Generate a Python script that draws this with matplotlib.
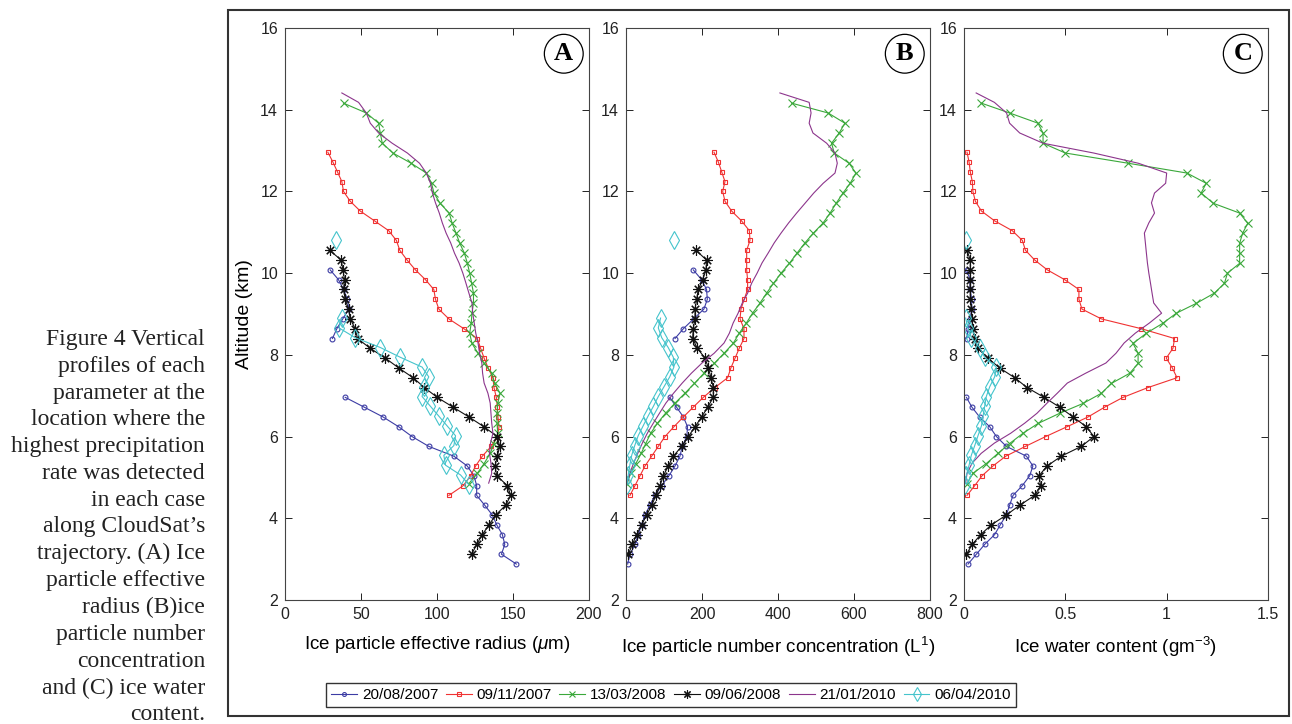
import numpy as np
import matplotlib
matplotlib.use("Agg")
import matplotlib.pyplot as plt
from matplotlib.patches import Rectangle

nan = np.nan

dates = ["20/08/2007", "09/11/2007", "13/03/2008", "09/06/2008", "21/01/2010", "06/04/2010"]

# 20/08/2007 (gap between 8.4 and 7.0 km)
alt_0820 = [10.08, 9.84, 9.60, 9.36, 9.12, 8.88, 8.64, 8.40, 8.16, 7.92, 7.68, 7.44, 7.20,
            6.96, 6.72, 6.48, 6.24, 6.00, 5.76, 5.52, 5.28, 5.04, 4.80, 4.56, 4.32, 4.08,
            3.84, 3.60, 3.36, 3.12, 2.88]
re_0820 = [29.7, 35.2, 38.5, 41.0, 42.0, 38.0, 34.1, 31.2, nan, nan, nan, nan, nan,
           39.6, 52.1, 64.5, 74.8, 83.6, 94.6, 111.1, 119.9, 124.3, 126.1, 126.1, 131.4, 136.4,
           139.3, 143.0, 144.6, 142.4, 152.2]
nc_0820 = [177, 199, 212, 214, 205, 178, 151, 129, nan, nan, nan, nan, nan,
           115, 133, 151, 162, 160, 148, 142, 129, 113, 94, 76, 63, 50,
           41, 32, 24, 10.5, 4.4]
iwc_0820 = [0.013, 0.03, 0.03, 0.038, 0.038, 0.03, 0.021, 0.013, nan, nan, nan, nan, nan,
            0.012, 0.039, 0.077, 0.127, 0.16, 0.209, 0.308, 0.34, 0.324, 0.288, 0.242, 0.225, 0.209,
            0.179, 0.151, 0.102, 0.061, 0.02]

# 09/11/2007
alt_1109 = [12.96, 12.72, 12.48, 12.24, 12.00, 11.76, 11.52, 11.28, 11.04, 10.80, 10.56, 10.32,
            10.08, 9.84, 9.60, 9.36, 9.12, 8.88, 8.64, 8.40, 8.16, 7.92, 7.68, 7.44,
            7.20, 6.96, 6.72, 6.48, 6.24, 6.00, 5.76, 5.52, 5.28, 5.04, 4.80, 4.56]
re_1109 = [28.2, 31.5, 34.5, 37.4, 38.5, 42.9, 49.5, 58.9, 68.2, 73.3, 75.5, 80.3,
           85.8, 92.4, 97.9, 99.0, 101.2, 107.8, 117.7, 126.5, 128.7, 131.0, 133.6, 136.8,
           137.5, 139.0, 139.7, 140.1, 140.8, 139.7, 135.7, 129.8, 125.4, 122.1, 117.3, 107.8]
nc_1109 = [231.6, 243, 251.8, 260.5, 254.4, 260.5, 278, 304, 324.6, 326.3, 317.5, 317.5,
           317.5, 320, 320, 311, 302.6, 300, 310.5, 310.5, 298, 287, 276, 267.5,
           234, 203.5, 177, 151, 126, 102.6, 85, 67.5, 50, 36.8, 23.7, 10.5]
iwc_1109 = [0.015, 0.025, 0.031, 0.041, 0.044, 0.056, 0.086, 0.151, 0.238, 0.288, 0.303, 0.349,
            0.411, 0.497, 0.567, 0.567, 0.582, 0.678, 0.875, 1.039, 1.031, 0.998, 1.028, 1.051,
            0.908, 0.785, 0.694, 0.612, 0.508, 0.403, 0.303, 0.206, 0.143, 0.089, 0.053, 0.015]

# 13/03/2008
alt_0313 = [14.16, 13.92, 13.67, 13.43, 13.18, 12.94, 12.69, 12.45, 12.20, 11.96, 11.71, 11.47, 11.22,
            10.98, 10.73, 10.49, 10.24, 10.00, 9.75, 9.51, 9.26, 9.02, 8.77, 8.53, 8.28, 8.04,
            7.79, 7.55, 7.30, 7.06, 6.81, 6.57, 6.32, 6.08, 5.83, 5.59, 5.34, 5.10, 4.85]
re_0313 = [38.5, 53.5, 61.6, 62.7, 64.0, 71.0, 83.0, 93.0, 96.4, 98.0, 102.0, 108.0, 110.0,
           112.5, 115.0, 118.0, 120.0, 121.5, 122.8, 124.0, 124.0, 123.0, 122.5, 121.5, 123.0, 127.0,
           131.0, 136.0, 138.0, 141.5, 140.0, 139.5, 139.5, 140.0, 137.5, 135.0, 131.0, 126.5, 121.0]
nc_0313 = [436, 532, 576, 561, 541, 548, 587, 605, 590, 571, 553, 537, 518,
           493, 470, 450, 430, 408, 388, 370, 352, 333, 316, 298, 282, 258,
           232, 205, 180, 155, 128, 104, 82, 65, 52, 40, 26, 12, 3]
iwc_0313 = [0.086, 0.225, 0.365, 0.39, 0.39, 0.50, 0.81, 1.10, 1.195, 1.17, 1.23, 1.36, 1.40,
            1.375, 1.36, 1.36, 1.36, 1.30, 1.285, 1.235, 1.146, 1.048, 0.98, 0.90, 0.834, 0.859,
            0.859, 0.818, 0.727, 0.678, 0.587, 0.472, 0.365, 0.291, 0.225, 0.168, 0.11, 0.044, 0.015]

# 09/06/2008
alt_0609 = [10.56, 10.32, 10.08, 9.84, 9.60, 9.36, 9.12, 8.88, 8.64, 8.40, 8.16, 7.92, 7.68, 7.44,
            7.20, 6.96, 6.72, 6.48, 6.24, 6.00, 5.76, 5.52, 5.28, 5.04, 4.80, 4.56, 4.32, 4.08,
            3.84, 3.60, 3.36, 3.12]
re_0609 = [29.3, 37.0, 38.1, 39.2, 38.5, 39.6, 41.8, 42.9, 46.2, 47.7, 56.1, 66.0, 74.8, 84.3,
           91.7, 100.1, 110.6, 121.0, 130.9, 139.7, 141.2, 139.7, 138.2, 139.3, 146.3, 148.5, 145.2, 138.6,
           134.2, 129.8, 126.1, 122.8]
nc_0609 = [184, 212, 210.5, 202, 190, 186, 181.6, 181.6, 177, 175.4, 187.7, 208, 216.7, 223.7,
           229.8, 229.8, 215, 199, 181.6, 164, 146.5, 124.6, 111.4, 98.2, 89.5, 79, 67.5, 54.4,
           41.2, 28, 16.7, 6]
iwc_0609 = [0.015, 0.031, 0.031, 0.031, 0.031, 0.031, 0.036, 0.039, 0.044, 0.053, 0.069, 0.118, 0.176, 0.25,
            0.311, 0.395, 0.472, 0.538, 0.604, 0.641, 0.579, 0.48, 0.41, 0.37, 0.378, 0.349, 0.275, 0.209,
            0.135, 0.082, 0.041, 0.012]

# 21/01/2010
alt_0121 = [14.41, 14.18, 13.92, 13.67, 13.43, 13.18, 12.94, 12.69, 12.45, 12.20,
            11.96, 11.72, 11.47, 11.23, 10.98, 10.74, 10.49, 10.25, 10.00, 9.76,
            9.51, 9.27, 9.02, 8.78, 8.53, 8.29, 8.04, 7.80, 7.55, 7.31,
            7.06, 6.82, 6.57, 6.33, 6.08, 5.84, 5.59, 5.35, 5.10, 4.86]
re_0121 = [37.4, 48.4, 53.5, 56.1, 61.6, 70.5, 80.5, 88.5, 93.0, 95.7,
           97.0, 99.0, 101.5, 103.5, 106.0, 109.0, 111.5, 114.5, 117.0, 119.0,
           121.0, 123.0, 123.5, 124.5, 125.5, 127.0, 128.0, 129.5, 130.0, 131.0,
           133.5, 135.0, 135.5, 136.0, 136.8, 135.2, 134.5, 135.5, 136.0, 134.0]
nc_0121 = [405, 482, 487, 482, 492, 528, 550, 556, 550, 519,
           494, 472, 449, 428, 408, 390, 374, 358, 345, 331,
           320, 306, 295, 282, 272, 258, 232, 200, 172, 148,
           125, 105, 88, 72, 56, 43, 31, 20, 10, 3]
iwc_0121 = [0.06, 0.15, 0.21, 0.225, 0.275, 0.39, 0.64, 0.86, 1.0, 0.995,
            0.94, 0.925, 0.94, 0.912, 0.89, 0.895, 0.9, 0.905, 0.912, 0.92,
            0.928, 0.936, 0.975, 0.915, 0.845, 0.79, 0.75, 0.70, 0.60, 0.51,
            0.46, 0.41, 0.36, 0.30, 0.23, 0.15, 0.085, 0.04, 0.015, 0.008]

# 06/04/2010 (single bin at 10.8 km, separated from the rest)
alt_0406 = [10.82, 9.86, 8.90, 8.66, 8.42, 8.18, 7.94, 7.70, 7.46, 7.22,
            6.98, 6.74, 6.50, 6.26, 6.02, 5.78, 5.54, 5.30, 5.06, 4.82]
re_0406 = [33.4, nan, 37.4, 35.5, 46.2, 62.7, 75.9, 90.2, 94.6, 91.3,
           90.2, 95.7, 101.2, 106.7, 112.2, 111.1, 104.5, 105.6, 115.5, 121.0]
nc_0406 = [126, nan, 91, 85, 94, 111, 124.6, 126, 115, 100,
           85, 72, 58, 45, 32, 23, 15, 10, 6, 2]
iwc_0406 = [0.01, nan, 0.008, 0.02, 0.036, 0.077, 0.102, 0.16, 0.151, 0.127,
            0.11, 0.102, 0.094, 0.086, 0.069, 0.053, 0.036, 0.025, 0.012, 0.003]

caption = ["Figure 4 Vertical", "profiles of each", "parameter at the", "location where the",
           "highest precipitation", "rate was detected", "in each case", "along CloudSat\u2019s",
           "trajectory. (A) Ice", "particle effective", "radius (B)ice", "particle number",
           "concentration", "and (C) ice water", "content."]

plt.rcParams["font.family"] = ["Liberation Sans", "DejaVu Sans"]
plt.rcParams["mathtext.fontset"] = "custom"
plt.rcParams["mathtext.rm"] = "Liberation Sans"
plt.rcParams["mathtext.it"] = "Liberation Sans:italic"

altitudes = [alt_0820, alt_1109, alt_0313, alt_0609, alt_0121, alt_0406]
panel_data = [
    [re_0820, re_1109, re_0313, re_0609, re_0121, re_0406],
    [nc_0820, nc_1109, nc_0313, nc_0609, nc_0121, nc_0406],
    [iwc_0820, iwc_1109, iwc_0313, iwc_0609, iwc_0121, iwc_0406],
]

colors = ["#3c3ca4", "#f03232", "#3aa83a", "#111111", "#8c358c", "#45c4cc"]
# (8, 2, 0) is an eight-spoke asterisk
markers = ["o", "s", "x", (8, 2, 0), None, "d"]
msizes = [3.5, 3.0, 6.0, 7.5, 0, 9.0]

fig = plt.figure(figsize=(12.92, 7.24), dpi=100)

ax_left = [285 / 1292, 626 / 1292, 964 / 1292]
ax_w = 304 / 1292
ax_b = 1 - 600 / 724
ax_h = 572 / 724

xlims = [(0, 200), (0, 800), (0, 1.5)]
xticks = [[0, 50, 100, 150, 200], [0, 200, 400, 600, 800], [0, 0.5, 1, 1.5]]
xticklabels = [["0", "50", "100", "150", "200"], ["0", "200", "400", "600", "800"],
               ["0", "0.5", "1", "1.5"]]
xlabels = ["Ice particle effective radius ($\\mu$m)",
           "Ice particle number concentration (L$^{1}$)",
           "Ice water content (gm$^{-3}$)"]
letters = ["A", "B", "C"]

handles = []
for i in range(3):
    ax = fig.add_axes([ax_left[i], ax_b, ax_w, ax_h])
    for k in range(6):
        mk = markers[k]
        ln, = ax.plot(panel_data[i][k], altitudes[k], color=colors[k], lw=0.8,
                      marker=mk if mk else "None", ms=msizes[k],
                      mfc="none", mec=colors[k], mew=0.8)
        if i == 0:
            handles.append(ln)
    ax.set_xlim(*xlims[i])
    ax.set_ylim(2, 16)
    ax.set_xticks(xticks[i])
    ax.set_xticklabels(xticklabels[i])
    ax.set_yticks([2, 4, 6, 8, 10, 12, 14, 16])
    ax.tick_params(direction="in", top=True, right=True, length=5, width=0.7,
                   labelsize=11.5, colors="#222222", pad=5)
    for sp in ax.spines.values():
        sp.set_color("#444444")
        sp.set_linewidth(0.8)
    ax.set_xlabel(xlabels[i], fontsize=13.5, labelpad=9)
    if i == 0:
        ax.set_ylabel("Altitude (km)", fontsize=14, labelpad=5)
    ax.text(0.917, 0.955, letters[i], transform=ax.transAxes, ha="center", va="center",
            fontsize=19, fontweight="bold", family="Liberation Serif",
            bbox=dict(boxstyle="circle,pad=0.3", fc="white", ec="black", lw=0.9))

fig.legend(handles, dates, loc="center", bbox_to_anchor=(671 / 1292, 1 - 695 / 724),
           ncol=6, fontsize=11, frameon=True, fancybox=False, edgecolor="black",
           handlelength=1.7, columnspacing=0.5, handletextpad=0.3, borderpad=0.35,
           markerscale=0.8)

# surrounding frame
fig.add_artist(Rectangle((228 / 1292, 1 - 716 / 724), (1289 - 228) / 1292, 706 / 724,
                         transform=fig.transFigure, fill=False, ec="#333333", lw=1.5))

fig.text(205 / 1292, 1 - 329 / 724, "\n".join(caption), ha="right", va="top",
         multialignment="right", fontsize=17, family="Liberation Serif",
         linespacing=1.36, color="#222222")

fig.savefig("out.png", dpi=100)
